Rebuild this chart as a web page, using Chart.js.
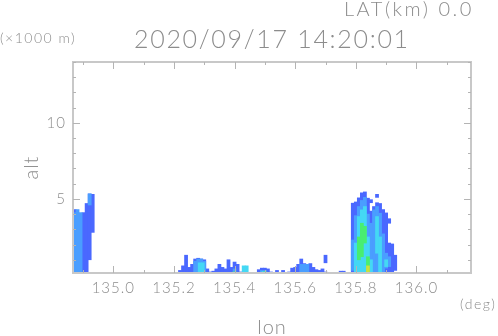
<!DOCTYPE html>
<html>
<head>
<meta charset="utf-8">
<style>
  html, body { margin: 0; padding: 0; background: #fff; }
  canvas { display: block; }
</style>
<script src="https://cdn.jsdelivr.net/npm/chart.js@4/dist/chart.umd.min.js"></script>
</head>
<body>
<canvas id="myChart" width="498" height="336"></canvas>
<script>
// [lon, alt low, alt high] in deg and km
var level1 = [
    [134.872, 0, 4.3], [134.902, 0, 4.1], [134.912, 0, 4.7], [134.922, 1.0, 5.33], [134.932, 2.8, 5.3],
    [135.22, 0, 0.3], [135.23, 0, 0.6], [135.24, 0, 1.3], [135.25, 0, 0.5], [135.26, 0, 0.7],
    [135.27, 0, 1.05], [135.28, 0, 1.1], [135.29, 0, 1.05], [135.30, 0, 1.0], [135.31, 0, 0.4],
    [135.32, 0, 0.2], [135.33, 0, 0.25], [135.34, 0, 0.4], [135.35, 0, 0.7], [135.36, 0, 0.5],
    [135.37, 0, 0.4], [135.38, 0, 1.0], [135.39, 0, 0.5], [135.40, 0, 0.85], [135.41, 0, 0.7],
    [135.42, 0, 0.2], [135.48, 0, 0.35], [135.49, 0, 0.45], [135.50, 0, 0.45], [135.51, 0, 0.4],
    [135.52, 0, 0.2], [135.54, 0, 0.3], [135.56, 0, 0.3], [135.58, 0, 0.2], [135.59, 0, 0.45],
    [135.60, 0, 0.5], [135.61, 0, 0.7], [135.62, 0, 1.05], [135.63, 0, 0.75], [135.64, 0, 0.7],
    [135.65, 0, 0.75], [135.66, 0, 0.5], [135.67, 0, 0.35], [135.68, 0, 0.3], [135.69, 0, 0.4],
    [135.70, 0, 0.2], [135.70, 0.8, 1.3],
    [135.75, 0, 0.25], [135.76, 0, 0.25],
    [135.79, 0, 4.72], [135.80, 0, 4.8], [135.81, 0, 5.07], [135.82, 0, 5.4], [135.83, 0, 5.46],
    [135.84, 0, 5.05], [135.85, 0, 4.2], [135.85, 4.75, 4.95], [135.86, 0, 4.5], [135.87, 0, 4.75],
    [135.87, 5.1, 5.3], [135.88, 0, 4.7], [135.89, 0, 4.3], [135.90, 0, 4.08], [135.91, 0, 2.1],
    [135.91, 3.4, 3.7], [135.92, 0, 2.04], [135.93, 0.3, 1.3]
];
var level2 = [
    [134.872, 0, 4.1], [134.882, 0, 4.3], [134.892, 0, 4.1], [134.922, 4.6, 5.33],
    [135.27, 0, 0.9], [135.28, 0, 1.05], [135.29, 0, 1.05], [135.30, 0, 0.9], [135.40, 0, 0.4],
    [135.49, 0, 0.3], [135.50, 0, 0.3], [135.62, 0, 0.7], [135.63, 0, 0.7], [135.64, 0, 0.7],
    [135.79, 0.3, 2.3], [135.80, 0, 3.9], [135.81, 0, 4.5], [135.82, 0, 4.9], [135.83, 0, 5.1],
    [135.84, 0, 4.0], [135.85, 0, 3.4], [135.86, 0, 4.28], [135.87, 0, 4.5], [135.88, 0, 4.06],
    [135.89, 0, 2.7], [135.90, 0.45, 1.43], [135.91, 0.55, 1.2]
];
var level3 = [
    [135.285, 0, 0.8], [135.295, 0, 0.8], [135.43, 0, 0.6], [135.44, 0, 0.6], [135.495, 0, 0.22],
    [135.80, 0, 2.1], [135.81, 0, 3.84], [135.82, 0, 4.28], [135.83, 0, 4.5], [135.84, 1.0, 2.5],
    [135.85, 0, 1.0], [135.87, 1.43, 3.84], [135.88, 0, 2.5], [135.90, 0.55, 1.0]
];
var level4 = [
    [135.81, 1.0, 2.5], [135.82, 1.2, 3.4], [135.83, 2.1, 3.2], [135.84, 0, 1.2],
    [135.40, 0, 0.2], [135.50, 0, 0.2]
];
var level5 = [
    [135.84, 0, 0.6], [135.495, 0, 0.16]
];

var xRange = [134.867, 136.18];
var yRange = [0.13, 14];
var xTickStep = 0.1;
var yTickStep = 1;
var xLabelEvery = [135.0, 135.2, 135.4, 135.6, 135.8, 136.0];
var yLabelEvery = [5, 10];

var levelColors = ['#4a68ff', '#4a9eff', '#44d8f4', '#48ee70', '#c8e040'];
var lineGray = '#c8c8c8';
var textGray = '#8c8c8c';
var fontFace = 'Lato, "Liberation Sans", sans-serif';

function toBars(rows) {
    return rows.map(function(r) {
        return { x: r[0], y: [r[1], r[2]] };
    });
}

function isMajor(value, list) {
    return list.some(function(v) { return Math.abs(v - value) < 0.001; });
}

// GrADS style frame: inward ticks on all four sides, plus the loose text
var framePlugin = {
    id: 'frame',
    beforeDraw: function(chart) {
        chart.ctx.letterSpacing = '1px';
    },
    afterDraw: function(chart) {
        var c = chart.ctx, a = chart.chartArea;
        var xs = chart.scales.x, ys = chart.scales.y;
        c.save();
        c.strokeStyle = lineGray;
        c.lineWidth = 2;
        c.strokeRect(a.left, a.top, a.right - a.left, a.bottom - a.top);
        c.strokeStyle = '#b4b4b4';
        c.lineWidth = 1;
        c.beginPath();
        xs.ticks.forEach(function(t) {
            var px = Math.round(xs.getPixelForValue(t.value)) + 0.5;
            var len = isMajor(t.value, xLabelEvery) ? 7 : 3;
            c.moveTo(px, a.bottom); c.lineTo(px, a.bottom - len);
            c.moveTo(px, a.top); c.lineTo(px, a.top + len);
        });
        ys.ticks.forEach(function(t) {
            var py = Math.round(ys.getPixelForValue(t.value)) + 0.5;
            var len = isMajor(t.value, yLabelEvery) ? 7 : 3;
            c.moveTo(a.left, py); c.lineTo(a.left + len, py);
            c.moveTo(a.right, py); c.lineTo(a.right - len, py);
        });
        c.stroke();

        c.fillStyle = textGray;
        c.textBaseline = 'alphabetic';
        c.letterSpacing = '1.7px';
        c.font = '300 25px ' + fontFace;
        c.fillText('2020/09/17 14:20:01', 134, 48);
        c.letterSpacing = '2.5px';
        c.font = '300 20px ' + fontFace;
        c.fillText('LAT(km) 0.0', 344, 16);
        c.letterSpacing = '1.5px';
        c.font = '300 14px ' + fontFace;
        c.fillText('(\u00d71000 m)', 0, 43);
        c.fillText('(deg)', 460, 309);
        c.restore();
    }
};

new Chart(document.getElementById('myChart').getContext('2d'), {
    type: 'bar',
    plugins: [framePlugin],
    data: {
        datasets: [level1, level2, level3, level4, level5].map(function(rows, i) {
            return {
                data: toBars(rows),
                backgroundColor: levelColors[i],
                borderWidth: 0,
                barThickness: 3.1,
                grouped: false,
                order: 5 - i
            };
        })
    },
    options: {
        responsive: false,
        animation: false,
        layout: { padding: { top: 62, right: 27, left: 0, bottom: 0 } },
        plugins: { legend: { display: false }, tooltip: { enabled: false } },
        scales: {
            x: {
                type: 'linear',
                offset: false,
                min: xRange[0],
                max: xRange[1],
                afterFit: function(s) { s.height = 63; },
                grid: { drawOnChartArea: false, drawTicks: false },
                border: { color: lineGray, width: 2 },
                title: {
                    display: true,
                    text: 'lon',
                    color: textGray,
                    font: { family: fontFace, size: 20, weight: '300' },
                    padding: { top: 0, bottom: -4 }
                },
                ticks: {
                    stepSize: xTickStep,
                    autoSkip: false,
                    maxRotation: 0,
                    includeBounds: false,
                    padding: 6,
                    color: textGray,
                    font: { family: fontFace, size: 15, weight: '300' },
                    callback: function(v) {
                        return isMajor(v, xLabelEvery) ? v.toFixed(1) : '';
                    }
                }
            },
            y: {
                type: 'linear',
                min: yRange[0],
                max: yRange[1],
                afterFit: function(s) { s.width = 73; },
                grid: { drawOnChartArea: false, drawTicks: false },
                border: { color: lineGray, width: 2 },
                title: {
                    display: true,
                    text: 'alt',
                    color: textGray,
                    font: { family: fontFace, size: 20, weight: '300' },
                    padding: { top: 20, bottom: 0 }
                },
                ticks: {
                    stepSize: yTickStep,
                    autoSkip: false,
                    includeBounds: false,
                    padding: 7,
                    color: textGray,
                    font: { family: fontFace, size: 15, weight: '300' },
                    callback: function(v) {
                        return isMajor(v, yLabelEvery) ? String(v) : '';
                    }
                }
            }
        }
    }
});
</script>
</body>
</html>
